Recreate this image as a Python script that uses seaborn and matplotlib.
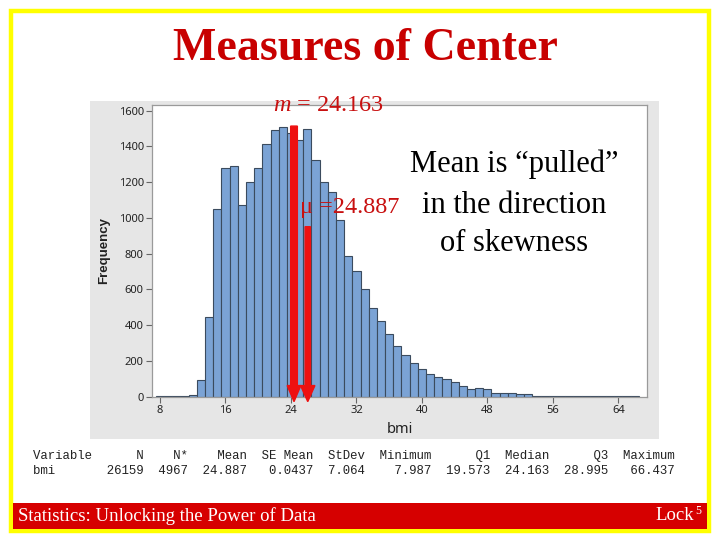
import numpy as np
import pandas as pd
import matplotlib
matplotlib.use("Agg")
import matplotlib.pyplot as plt
import seaborn as sns
from matplotlib.patches import Rectangle

# ---------------- data ----------------
bin_centers = list(range(8, 67))
counts = [3, 3, 3, 3, 10, 92, 446, 1052,
          1278, 1289, 1071, 1199, 1278,
          1413, 1490, 1507, 1473, 1434,
          1496, 1322, 1199, 1143, 987,
          787, 703, 601, 494, 423,
          349, 282, 231, 187, 153,
          125, 112, 97, 84, 62,
          41, 47, 41, 19, 22, 22, 13, 12,
          6, 6, 6, 6, 5, 2, 2, 5, 5, 5, 2, 2, 2]
x_ticks = [8, 16, 24, 32, 40, 48, 56, 64]
y_ticks = [0, 200, 400, 600, 800, 1000, 1200, 1400, 1600]

stat_names = ["N", "N*", "Mean", "SE Mean", "StDev", "Minimum", "Q1", "Median", "Q3", "Maximum"]
stat_values = ["26159", "4967", "24.887", "0.0437", "7.064", "7.987", "19.573", "24.163", "28.995", "66.437"]
variable_name = "bmi"

median_label = "24.163"
mean_label = "24.887"

# ---------------- figure ----------------
sns.set_style("white")
plt.rcParams["font.family"] = ["Liberation Serif", "DejaVu Serif"]
plt.rcParams["mathtext.fontset"] = "custom"
plt.rcParams["mathtext.it"] = "Liberation Serif:italic"
plt.rcParams["mathtext.rm"] = "Liberation Serif"

W, H = 720, 540
fig = plt.figure(figsize=(7.2, 5.4), dpi=100)
fig.patch.set_facecolor("white")


def fx(x):
    return x / W


def fy(y):
    return 1 - y / H


# minitab gray panel
fig.patches.append(Rectangle((fx(90), fy(439)), (659 - 90) / W, (439 - 101) / H,
                             transform=fig.transFigure, facecolor="#E6E6E6",
                             edgecolor="none", zorder=-2))
# yellow slide frame
fig.patches.append(Rectangle((fx(11), fy(531)), (709 - 11) / W, (531 - 11) / H,
                             transform=fig.transFigure, facecolor="none",
                             edgecolor="#FFFF00", linewidth=3.2, zorder=-1))
# red footer
fig.patches.append(Rectangle((fx(13), fy(529)), (707 - 13) / W, (529 - 503) / H,
                             transform=fig.transFigure, facecolor="#D60000",
                             edgecolor="none", zorder=-1))

ax = fig.add_axes([fx(152), fy(397), (647 - 152) / W, (397 - 105) / H])
ax.set_facecolor("white")

df = pd.DataFrame({"bmi": bin_centers, "count": counts})
sns.histplot(data=df, x="bmi", weights="count", binwidth=1,
             binrange=(bin_centers[0] - 0.5, bin_centers[-1] + 0.5), ax=ax,
             color="#7BA3D5", edgecolor="#3B4B5E", linewidth=0.8, alpha=1.0)

ax.set_xlim(7.02, 67.5)
ax.set_ylim(-2, 1632)
ax.set_xticks(x_ticks)
ax.set_yticks(y_ticks)
ax.tick_params(axis="both", which="both", direction="out", length=4, width=0.8,
               color="#666666", labelsize=8, labelcolor="#222222", pad=2,
               bottom=True, left=True)
for lab in ax.get_xticklabels() + ax.get_yticklabels():
    lab.set_fontfamily("Noto Sans")
for s in ax.spines.values():
    s.set_color("#9A9A9A")
    s.set_linewidth(0.9)
ax.set_xlabel("bmi", fontsize=10.5, family="Noto Sans", color="#222222", labelpad=4)
ax.set_ylabel("Frequency", fontsize=9.5, family="Liberation Sans", fontweight="bold",
              color="#222222", labelpad=6)

# arrows for median and mean (annotation positions as drawn on slide)
arrow_color = "#EE1111"
ax.arrow(24.37, 1514, 0, -1542, width=0.82, head_width=1.67, head_length=90,
         length_includes_head=True, color=arrow_color, clip_on=False, zorder=5)
ax.arrow(26.05, 951, 0, -979, width=0.65, head_width=1.75, head_length=90,
         length_includes_head=True, color=arrow_color, clip_on=False, zorder=5)

# ---------------- texts ----------------
fig.text(fx(365), fy(60), "Measures of Center", ha="center", va="baseline",
         fontsize=33, fontweight="bold", color="#C80000")

fig.text(fx(273), fy(111), "$m$ = " + median_label, ha="left", va="baseline",
         fontsize=17.5, color="#C81010")
fig.text(fx(300), fy(213), "\u03bc =" + mean_label, ha="left", va="baseline",
         fontsize=17.5, color="#C81010")

for txt, yb in [("Mean is \u201cpulled\u201d", 172), ("in the direction", 213),
                ("of skewness", 251)]:
    fig.text(fx(514), fy(yb), txt, ha="center", va="baseline", fontsize=22,
             color="black")

# stats table
col_w = [7, 6, 8, 9, 7, 9, 8, 8, 8, 9]
header = "Variable" + "".join(n.rjust(w) for n, w in zip(stat_names, col_w))
values = variable_name.ljust(8) + "".join(v.rjust(w) for v, w in zip(stat_values, col_w))
fig.text(fx(33), fy(456), header, ha="left", va="center", fontsize=8.9,
         family="Liberation Mono", color="#222222")
fig.text(fx(33), fy(471), values, ha="left", va="center", fontsize=8.9,
         family="Liberation Mono", color="#222222")

# footer
fig.text(fx(18), fy(516), "Statistics: Unlocking the Power of Data", ha="left",
         va="center", fontsize=13.5, color="white")
fig.text(fx(694), fy(516), "Lock", ha="right", va="center", fontsize=13.5, color="white")
fig.text(fx(695), fy(511), "5", ha="left", va="center", fontsize=8.5, color="white")

fig.savefig("out.png", dpi=100)
